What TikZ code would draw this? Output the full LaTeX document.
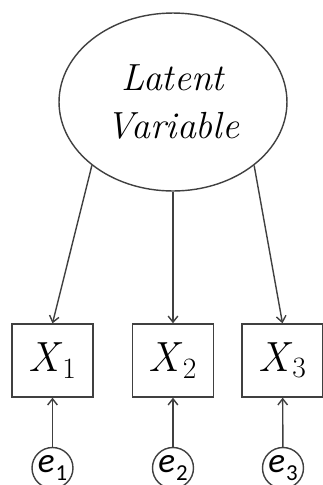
\documentclass[tikz,border=0pt]{standalone}
\usepackage{fontspec}
\newfontfamily\termsfont{Latin Modern Roman}
\newfontfamily\errfont{Carlito}
\usepackage{tikz}
\usetikzlibrary{positioning,shapes.geometric,arrows.meta}

\newcommand{\errlab}[1]{\textit{e}\kern0.5pt\raisebox{-4.5pt}{\fontsize{13}{13}\selectfont #1}}

\begin{document}
\begin{tikzpicture}[
  x=0.02cm, y=-0.02cm,
  line width=0.8pt,
  latent/.style={draw=black!75, ellipse, minimum width=4.56cm, minimum height=3.56cm,
                 inner sep=0pt, align=center, font=\termsfont\fontsize{21.5}{27}\selectfont\itshape},
  obs/.style={draw=black!75, rectangle, minimum width=1.62cm, minimum height=1.46cm,
              inner sep=0pt, font=\termsfont\fontsize{24}{30}\selectfont},
  err/.style={draw=black!75, circle, minimum size=0.82cm, inner sep=0pt,
              font=\errfont\fontsize{20}{22}\selectfont},
  arr/.style={draw=black!75, -{Straight Barb[length=3.5pt,width=5.5pt]}},
]
\useasboundingbox (0,0) rectangle (323,485);

\node[latent] (lv) at (173,102) {Latent\\Variable};

\node[obs] (x1) at (52.5,360.5) {\textit{X}\textsubscript{1}};
\node[obs] (x2) at (173,360.5) {\textit{X}\textsubscript{2}};
\node[obs] (x3) at (282.5,360.5) {\textit{X}\textsubscript{3}};

\node[err] (e1) at (52.5,468) {\errlab{1}};
\node[err] (e2) at (173,468) {\errlab{2}};
\node[err] (e3) at (283,468) {\errlab{3}};

% loadings
\draw[arr] (lv.-142) -- (x1.north);
\draw[arr] (lv.south) -- (x2.north);
\draw[arr] (lv.-38) -- (x3.north);

% errors
\draw[arr] (e1) -- (x1);
\draw[arr] (e2) -- (x2);
\draw[arr] (e3) -- (x3);
\end{tikzpicture}
\end{document}
